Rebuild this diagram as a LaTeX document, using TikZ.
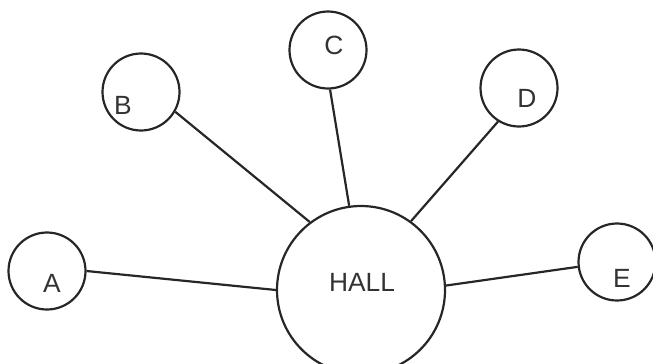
\documentclass[tikz,border=0pt]{standalone}
\usepackage{fontspec}
\setmainfont{Liberation Sans}
\usepackage{tikz}

\begin{document}
\begin{tikzpicture}[room/.style={circle, draw=black!85, line width=1.25pt, minimum size=1.54cm, inner sep=0pt}, link/.style={draw=black!85, line width=1.25pt}, tag/.style={text=black!80, font=\fontsize{15}{18}\selectfont}]
			\useasboundingbox (0,0) rectangle (13.06,7.26);
			\node[room, minimum size=3.36cm, label={[tag, shift={(0.02,0.16)}]center:HALL}] (hall) at (7.22,1.46) {};
			\node[room, label={[tag, shift={(0.1,-0.24)}]center:A}] (a) at (0.94,1.84) {};
			\node[room, label={[tag, shift={(-0.36,-0.26)}]center:B}] (b) at (2.82,5.42) {};
			\node[room, label={[tag, shift={(0.12,0.1)}]center:C}] (c) at (6.56,6.26) {};
			\node[room, label={[tag, shift={(0.16,-0.2)}]center:D}] (d) at (10.38,5.50) {};
			\node[room, label={[tag, shift={(0.1,-0.32)}]center:E}] (e) at (12.34,2.02) {};
			\draw[link] (a.0) -- (hall.180);
			\draw[link] (b.-30) -- (hall.127);
			\draw[link] (c.-87) -- (hall.98);
			\draw[link] (d.-122) -- (hall.54);
			\draw[link] (hall.3) -- (e.187);
			\end{tikzpicture}
\end{document}
